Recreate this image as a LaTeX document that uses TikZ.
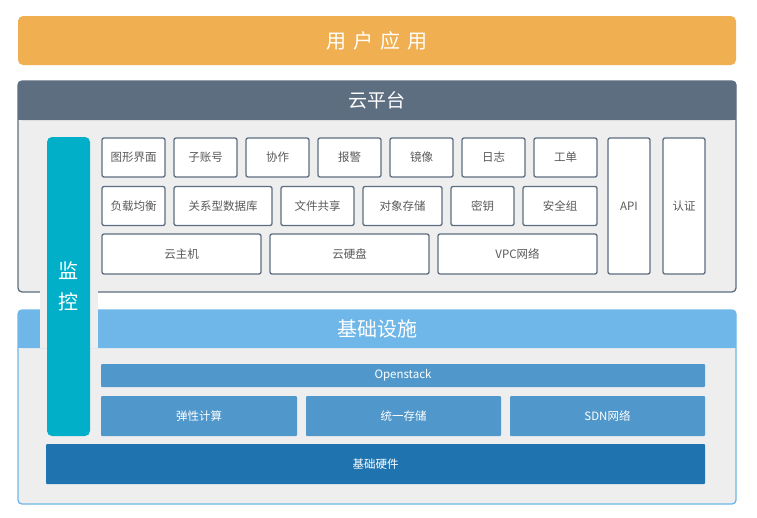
\documentclass[tikz,border=0pt]{standalone}
\usepackage{fontspec}
\setmainfont{Noto Sans CJK SC}
\usepackage{tikz}
\usetikzlibrary{calc}

\definecolor{appOrange}{HTML}{F0B051}
\definecolor{slate}{HTML}{5D6E80}
\definecolor{bodyGray}{HTML}{EEEEEE}
\definecolor{monTeal}{HTML}{02AFC8}
\definecolor{infraBlue}{HTML}{6EB7E8}
\definecolor{stackBlue}{HTML}{5097CB}
\definecolor{hwBlue}{HTML}{1F74B0}
\definecolor{cellText}{HTML}{5A5A5A}

\begin{document}
\begin{tikzpicture}[x=1pt,y=-1pt]
      \tikzset{cell box/.style={draw=slate,
          line width=1.3pt,
          fill=white,
          rounded corners=2pt,
          inner sep=0pt,
          text=cellText,
          font=\fontsize{11.5}{12}\selectfont},
        blue box/.style={fill=#1,
          inner sep=0pt,
          rounded corners=1pt,
          text=white,
          font=\fontsize{11.5}{12}\selectfont},
        title text/.style={text=white,
          inner sep=0pt,
          font=\fontsize{#1}{#1}\selectfont}
      }
      \useasboundingbox (0,0) rectangle (757,517);

      % user applications
      \fill [appOrange, rounded corners=5pt] (18,16) rectangle (736,65);
      \node [title text=20] (yonghu) at (377,40.5) {用\hspace{0.35em}户\hspace{0.35em}应\hspace{0.35em}用};

      % cloud platform
      \fill [bodyGray, rounded corners=4pt] (18,81) rectangle (736,292);
      \fill [slate, rounded corners=4pt] (18,81) rectangle (736,120);
      \fill [slate] (18,105) rectangle (736,120);
      \draw [slate, line width=1.3pt, rounded corners=4pt] (18,81) rectangle (736,292);
      \node [title text=19] (pingtai) at (377,100.5) {云平台};

      % infrastructure
      \fill [bodyGray, rounded corners=4pt] (18,310) rectangle (736,504);
      \fill [infraBlue, rounded corners=4pt] (18,310) rectangle (736,348);
      \fill [infraBlue] (18,330) rectangle (736,348);
      \draw [infraBlue, line width=1.3pt, rounded corners=4pt] (18,310) rectangle (736,504);
      \node [title text=20] (sheshi) at (377,329) {基础设施};

      % monitoring
      \fill [bodyGray] (40,286) rectangle (98,348);
      \node [blue box=monTeal, rounded corners=5pt, minimum width=43, minimum height=299,
        font=\fontsize{20}{31}\selectfont, align=center] (jiankong) at (68.5,286.5) {监\\控};

      % cloud platform services
      \node [cell box, minimum width=63, minimum height=39] (tuxing) at (133.5,157.5) {图形界面};
      \node [cell box, minimum width=63, minimum height=39] (zizhang) at (205.5,157.5) {子账号};
      \node [cell box, minimum width=63, minimum height=39] (xiezuo) at (277.5,157.5) {协作};
      \node [cell box, minimum width=63, minimum height=39] (baojing) at (349.5,157.5) {报警};
      \node [cell box, minimum width=63, minimum height=39] (jingxiang) at (421.5,157.5) {镜像};
      \node [cell box, minimum width=63, minimum height=39] (rizhi) at (493.5,157.5) {日志};
      \node [cell box, minimum width=63, minimum height=39] (gongdan) at (565.5,157.5) {工单};

      \node [cell box, minimum width=63, minimum height=39] (fuzai) at (133.5,206) {负载均衡};
      \node [cell box, minimum width=98, minimum height=39] (shujuku) at (223,206) {关系型数据库};
      \node [cell box, minimum width=73, minimum height=39] (gongxiang) at (317.5,206) {文件共享};
      \node [cell box, minimum width=79, minimum height=39] (duixiang) at (402.5,206) {对象存储};
      \node [cell box, minimum width=63, minimum height=39] (miyao) at (482.5,206) {密钥};
      \node [cell box, minimum width=74, minimum height=39] (anquan) at (560,206) {安全组};

      \node [cell box, minimum width=159, minimum height=40] (zhuji) at (181.5,254) {云主机};
      \node [cell box, minimum width=159, minimum height=40] (yingpan) at (349.5,254) {云硬盘};
      \node [cell box, minimum width=159, minimum height=40] (vpc) at (517.5,254) {VPC网络};

      \node [cell box, minimum width=42, minimum height=136] (api) at (629,206) {API};
      \node [cell box, minimum width=42, minimum height=136] (renzheng) at (684,206) {认证};

      % infrastructure layers
      \node [blue box=stackBlue, minimum width=604, minimum height=23] (openstack) at (403,375.5) {Openstack};
      \node [blue box=stackBlue, minimum width=196, minimum height=40] (jisuan) at (199,416) {弹性计算};
      \node [blue box=stackBlue, minimum width=195, minimum height=40] (cunchu) at (403.5,416) {统一存储};
      \node [blue box=stackBlue, minimum width=195, minimum height=40] (sdn) at (607.5,416) {SDN网络};
      \node [blue box=hwBlue, minimum width=659, minimum height=40] (yingjian) at (375.5,464) {基础硬件};

    \end{tikzpicture}
\end{document}
